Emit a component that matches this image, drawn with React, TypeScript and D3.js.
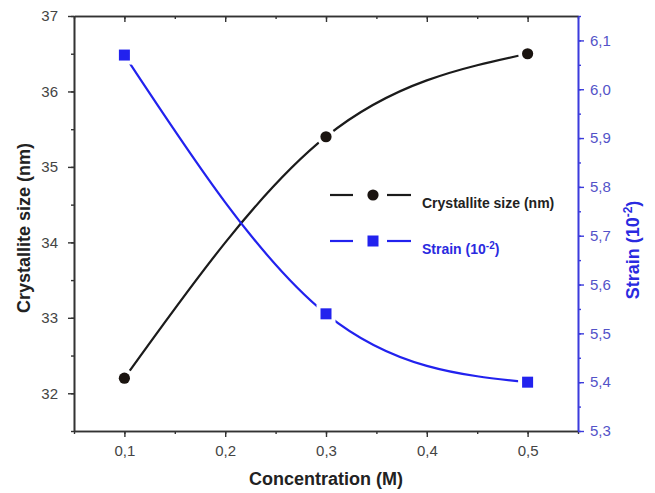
import React, { Component } from "react";
import * as d3 from "d3";

// Concentration (M) on the x axis
const concentrations = [0.1, 0.3, 0.5];
// Crystallite size (nm), left axis
const crystalliteSize = [32.2, 35.4, 36.5];
// Strain (10^-2), right axis
const strain = [6.07, 5.54, 5.4];

const xTicks = [0.1, 0.2, 0.3, 0.4, 0.5];
const leftTicks = [32, 33, 34, 35, 36, 37];
const rightTicks = [5.3, 5.4, 5.5, 5.6, 5.7, 5.8, 5.9, 6.0, 6.1];

const seriesLabels = ["Crystallite size (nm)", "Strain (10"];

class App extends Component {
  constructor(props) {
    super(props);
    this.chartRef = React.createRef();
  }

  componentDidMount() {
    document.body.style.margin = "0";
    this.drawChart();
  }

  drawChart() {
    const canvasWidth = 655,
      canvasHeight = 493;
    const margin = { top: 16, right: 77, bottom: 62, left: 74 };
    const width = canvasWidth - margin.left - margin.right,
      height = canvasHeight - margin.top - margin.bottom;

    const black = "#1b1b1b",
      axisGray = "#333",
      blue = "#2222ee",
      axisBlue = "#3b3bdc",
      labelBlue = "#5353c8";
    const font = "'Liberation Sans', Arial, sans-serif";

    const svg = d3
      .select(this.chartRef.current)
      .append("svg")
      .attr("width", canvasWidth)
      .attr("height", canvasHeight)
      .style("display", "block")
      .style("background", "#fff");

    const g = svg.append("g").attr("transform", `translate(${margin.left},${margin.top})`);

    const x = d3.scaleLinear().domain([0.05, 0.55]).range([0, width]);
    const yLeft = d3.scaleLinear().domain([31.5, 37]).range([height, 0]);
    const yRight = d3.scaleLinear().domain([5.3, 6.15]).range([height, 0]);

    const comma1 = d => d3.format(".1f")(d).replace(".", ",");
    const xMinor = d3.range(0.05, 0.551, 0.05);
    const leftMinor = d3.range(31.5, 37.01, 0.5);
    const rightMinor = d3.range(5.3, 6.151, 0.05);

    const styleAxis = (sel, color, lblColor) => {
      sel.selectAll("path").attr("stroke", color).attr("stroke-width", 1.6);
      sel.selectAll("line").attr("stroke", color).attr("stroke-width", 1.4);
      sel.selectAll("text").attr("fill", lblColor).style("font-family", font).style("font-size", "15px");
    };

    // minor ticks first
    g.append("g")
      .attr("transform", `translate(0,${height})`)
      .call(d3.axisBottom(x).tickValues(xMinor).tickSize(3).tickFormat(() => "").tickSizeOuter(0))
      .call(s => styleAxis(s, axisGray, axisGray));
    g.append("g")
      .call(d3.axisBottom(x).tickValues(xMinor).tickSize(3).tickFormat(() => "").tickSizeOuter(0))
      .call(s => styleAxis(s, axisGray, axisGray));
    g.append("g")
      .call(d3.axisLeft(yLeft).tickValues(leftMinor).tickSize(3).tickFormat(() => "").tickSizeOuter(0))
      .call(s => styleAxis(s, axisGray, axisGray));
    g.append("g")
      .attr("transform", `translate(${width},0)`)
      .call(d3.axisRight(yRight).tickValues(rightMinor).tickSize(3).tickFormat(() => "").tickSizeOuter(0))
      .call(s => styleAxis(s, axisBlue, labelBlue));

    // major ticks
    g.append("g")
      .attr("transform", `translate(0,${height})`)
      .call(d3.axisBottom(x).tickValues(xTicks).tickSize(6).tickPadding(8).tickFormat(comma1).tickSizeOuter(0))
      .call(s => styleAxis(s, axisGray, "#444"));
    g.append("g")
      .call(d3.axisBottom(x).tickValues(xTicks).tickSize(6).tickFormat(() => "").tickSizeOuter(0))
      .call(s => styleAxis(s, axisGray, axisGray));
    g.append("g")
      .call(d3.axisLeft(yLeft).tickValues(leftTicks).tickSize(6).tickPadding(10).tickFormat(d3.format("d")).tickSizeOuter(0))
      .call(s => styleAxis(s, axisGray, "#444"));
    g.append("g")
      .attr("transform", `translate(${width},0)`)
      .call(d3.axisRight(yRight).tickValues(rightTicks).tickSize(6).tickPadding(6).tickFormat(comma1).tickSizeOuter(0))
      .call(s => styleAxis(s, axisBlue, labelBlue));

    // Curves
    const lineLeft = d3
      .line()
      .x((d, i) => x(concentrations[i]))
      .y(d => yLeft(d))
      .curve(d3.curveNatural);
    const lineRight = d3
      .line()
      .x((d, i) => x(concentrations[i]))
      .y(d => yRight(d))
      .curve(d3.curveNatural);

    g.append("path")
      .attr("d", lineLeft(crystalliteSize))
      .attr("fill", "none")
      .attr("stroke", black)
      .attr("stroke-width", 2.2);
    g.append("path")
      .attr("d", lineRight(strain))
      .attr("fill", "none")
      .attr("stroke", blue)
      .attr("stroke-width", 2.2);

    // White gaps around the markers
    g.selectAll(".halo-c")
      .data(crystalliteSize)
      .enter()
      .append("circle")
      .attr("cx", (d, i) => x(concentrations[i]))
      .attr("cy", d => yLeft(d))
      .attr("r", 9.5)
      .attr("fill", "#fff");
    g.selectAll(".halo-s")
      .data(strain)
      .enter()
      .append("rect")
      .attr("x", (d, i) => x(concentrations[i]) - 9.5)
      .attr("y", d => yRight(d) - 9.5)
      .attr("width", 19)
      .attr("height", 19)
      .attr("fill", "#fff");

    g.selectAll(".dot")
      .data(crystalliteSize)
      .enter()
      .append("circle")
      .attr("cx", (d, i) => x(concentrations[i]))
      .attr("cy", d => yLeft(d))
      .attr("r", 5.6)
      .attr("fill", "#1a1410");
    g.selectAll(".sq")
      .data(strain)
      .enter()
      .append("rect")
      .attr("x", (d, i) => x(concentrations[i]) - 5.5)
      .attr("y", d => yRight(d) - 5.5)
      .attr("width", 11)
      .attr("height", 11)
      .attr("fill", blue);

    // Axis titles
    svg.append("text")
      .attr("x", margin.left + width / 2)
      .attr("y", 485)
      .attr("text-anchor", "middle")
      .attr("fill", "#222")
      .style("font-family", font)
      .style("font-size", "18px")
      .style("font-weight", "bold")
      .text("Concentration (M)");

    svg.append("text")
      .attr("transform", `translate(30,228) rotate(-90)`)
      .attr("text-anchor", "middle")
      .attr("fill", "#222")
      .style("font-family", font)
      .style("font-size", "18px")
      .style("font-weight", "bold")
      .text("Crystallite size (nm)");

    const rt = svg.append("text")
      .attr("transform", `translate(639,250) rotate(-90)`)
      .attr("text-anchor", "middle")
      .attr("fill", "#2a2ae0")
      .style("font-family", font)
      .style("font-size", "18px")
      .style("font-weight", "bold");
    rt.append("tspan").text("Strain (10");
    rt.append("tspan").attr("dy", -7).style("font-size", "12px").text("-2");
    rt.append("tspan").attr("dy", 7).text(")");

    // Legend
    const legend = svg.append("g");
    const legendRows = [
      { y: 195, color: black, shape: "circle", textColor: "#222" },
      { y: 241, color: blue, shape: "square", textColor: "#2a2ae0" },
    ];
    legendRows.forEach((row, i) => {
      legend.append("line").attr("x1", 330).attr("x2", 353).attr("y1", row.y).attr("y2", row.y)
        .attr("stroke", row.color).attr("stroke-width", 2.2);
      legend.append("line").attr("x1", 387).attr("x2", 411).attr("y1", row.y).attr("y2", row.y)
        .attr("stroke", row.color).attr("stroke-width", 2.2);
      if (row.shape === "circle") {
        legend.append("circle").attr("cx", 373).attr("cy", row.y).attr("r", 5.6).attr("fill", "#1a1410");
      } else {
        legend.append("rect").attr("x", 367.5).attr("y", row.y - 5.5).attr("width", 11).attr("height", 11).attr("fill", blue);
      }
      const t = legend.append("text")
        .attr("x", 422)
        .attr("y", row.y + 13)
        .attr("fill", row.textColor)
        .style("font-family", font)
        .style("font-size", "14px")
        .style("font-weight", "bold");
      if (i === 0) {
        t.text(seriesLabels[0]);
      } else {
        t.append("tspan").text(seriesLabels[1]);
        t.append("tspan").attr("dy", -5).style("font-size", "10px").text("-2");
        t.append("tspan").attr("dy", 5).text(")");
      }
    });
  }

  render() {
    return <div ref={this.chartRef}></div>;
  }
}

export default App;
